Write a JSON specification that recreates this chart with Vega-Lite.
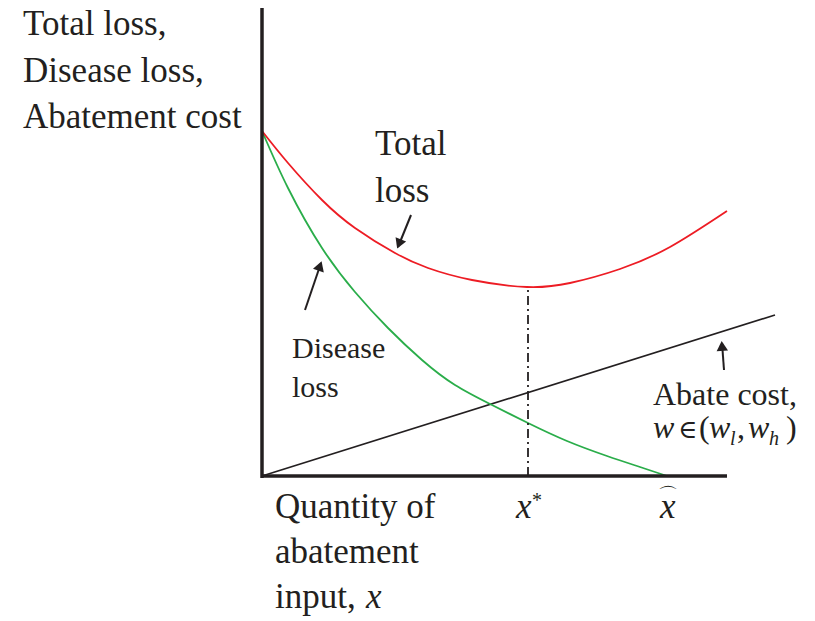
{
  "$schema": "https://vega.github.io/schema/vega-lite/v6.json",
  "width": 515,
  "height": 468,
  "padding": {"left": 262, "top": 8, "right": 38, "bottom": 145},
  "autosize": {"type": "none"},
  "background": "white",
  "config": {"view": {"stroke": null}, "text": {"font": "Liberation Serif", "color": "#231f20"}},
  "datasets": {
    "total": [
      {"x": 0, "y": 345}, {"x": 26, "y": 313}, {"x": 60, "y": 276}, {"x": 93, "y": 248},
      {"x": 133, "y": 223}, {"x": 166, "y": 208}, {"x": 210, "y": 196}, {"x": 265, "y": 189},
      {"x": 308, "y": 193}, {"x": 358, "y": 207}, {"x": 408, "y": 229}, {"x": 465, "y": 265}
    ],
    "disease": [
      {"x": 0, "y": 345}, {"x": 26, "y": 288}, {"x": 60, "y": 228}, {"x": 93, "y": 184},
      {"x": 126, "y": 148}, {"x": 160, "y": 116}, {"x": 193, "y": 91}, {"x": 230, "y": 71},
      {"x": 266, "y": 53}, {"x": 305, "y": 35}, {"x": 345, "y": 20}, {"x": 378, "y": 9}, {"x": 405, "y": 0}
    ],
    "abate": [{"x": 0, "y": 0}, {"x": 513, "y": 161}],
    "axes": [
      {"x": 0, "y": -2, "x2": 0, "y2": 468},
      {"x": 0, "y": 0, "x2": 465, "y2": 0}
    ],
    "xstar": [{"x": 266, "y": 0, "y2": 189}],
    "arrows": [
      {"name": "total", "x": 149, "y": 261, "x2": 136, "y2": 229},
      {"name": "disease", "x": 43, "y": 166, "x2": 59, "y2": 213},
      {"name": "abate", "x": 462, "y": 106, "x2": 460, "y2": 133}
    ],
    "heads": [
      {"name": "total", "x": 137, "y": 232},
      {"name": "disease", "x": 58, "y": 210},
      {"name": "abate", "x": 460, "y": 130}
    ],
    "labels": [
      {"t": "Total loss,", "x": -239, "y": 441, "g": "big"},
      {"t": "Disease loss,", "x": -239, "y": 394, "g": "big"},
      {"t": "Abatement cost", "x": -239, "y": 348, "g": "big"},
      {"t": "Total", "x": 113, "y": 321, "g": "big"},
      {"t": "loss", "x": 113, "y": 274, "g": "big"},
      {"t": "Quantity of", "x": 13, "y": -42, "g": "big"},
      {"t": "abatement", "x": 13, "y": -87, "g": "big"},
      {"t": "input,", "x": 13, "y": -132, "g": "big"},
      {"t": "Disease", "x": 30, "y": 118, "g": "mid"},
      {"t": "loss", "x": 30, "y": 79, "g": "mid"},
      {"t": "Abate cost,", "x": 391, "y": 71, "g": "abate"},
      {"t": "(", "x": 437, "y": 38, "g": "abate"},
      {"t": ",", "x": 475, "y": 38, "g": "abate"},
      {"t": ")", "x": 524, "y": 38, "g": "abate"}
    ],
    "symbols": [
      {"t": "∈", "x": 416, "y": 38}
    ],
    "italics": [
      {"t": "x", "x": 104, "y": -132, "g": "big"},
      {"t": "x", "x": 254, "y": -42, "g": "big"},
      {"t": "x", "x": 398, "y": -42, "g": "big"},
      {"t": "w", "x": 391, "y": 38, "g": "abate"},
      {"t": "w", "x": 447, "y": 38, "g": "abate"},
      {"t": "w", "x": 486, "y": 38, "g": "abate"},
      {"t": "l", "x": 468, "y": 31, "g": "sub"},
      {"t": "h", "x": 507, "y": 31, "g": "sub"}
    ],
    "marks": [
      {"t": "*", "x": 275, "y": -25},
      {"t": "⌒", "x": 406, "y": -20}
    ]
  },
  "encoding": {
    "x": {"type": "quantitative", "scale": {"domain": [0, 515], "nice": false, "zero": false}, "axis": null},
    "y": {"type": "quantitative", "scale": {"domain": [0, 468], "nice": false, "zero": false}, "axis": null}
  },
  "layer": [
    {
      "data": {"name": "abate"},
      "mark": {"type": "line", "color": "#231f20", "strokeWidth": 1.6, "clip": false},
      "encoding": {"x": {"field": "x", "type": "quantitative"}, "y": {"field": "y", "type": "quantitative"}}
    },
    {
      "data": {"name": "disease"},
      "mark": {"type": "line", "color": "#2aad4a", "strokeWidth": 1.8, "interpolate": "natural", "clip": false},
      "encoding": {"x": {"field": "x", "type": "quantitative"}, "y": {"field": "y", "type": "quantitative"}}
    },
    {
      "data": {"name": "total"},
      "mark": {"type": "line", "color": "#ed1c24", "strokeWidth": 1.8, "interpolate": "natural", "clip": false},
      "encoding": {"x": {"field": "x", "type": "quantitative"}, "y": {"field": "y", "type": "quantitative"}}
    },
    {
      "data": {"name": "xstar"},
      "mark": {"type": "rule", "color": "#231f20", "strokeWidth": 1.8, "strokeDash": [9, 4, 2, 4], "clip": false},
      "encoding": {"x": {"field": "x", "type": "quantitative"}, "y": {"field": "y", "type": "quantitative"}, "y2": {"field": "y2"}}
    },
    {
      "data": {"name": "axes"},
      "mark": {"type": "rule", "color": "#231f20", "strokeWidth": 3.5, "clip": false},
      "encoding": {
        "x": {"field": "x", "type": "quantitative"}, "y": {"field": "y", "type": "quantitative"},
        "x2": {"field": "x2"}, "y2": {"field": "y2"}
      }
    },
    {
      "data": {"name": "arrows"},
      "mark": {"type": "rule", "color": "#231f20", "strokeWidth": 2, "clip": false},
      "encoding": {
        "x": {"field": "x", "type": "quantitative"}, "y": {"field": "y", "type": "quantitative"},
        "x2": {"field": "x2"}, "y2": {"field": "y2"}
      }
    },
    {
      "data": {"name": "heads"},
      "transform": [{"filter": "datum.name === 'total'"}],
      "mark": {"type": "point", "shape": "triangle-up", "filled": true, "color": "#231f20", "size": 130, "angle": 202, "opacity": 1, "clip": false},
      "encoding": {"x": {"field": "x", "type": "quantitative"}, "y": {"field": "y", "type": "quantitative"}}
    },
    {
      "data": {"name": "heads"},
      "transform": [{"filter": "datum.name === 'disease'"}],
      "mark": {"type": "point", "shape": "triangle-up", "filled": true, "color": "#231f20", "size": 130, "angle": 19, "opacity": 1, "clip": false},
      "encoding": {"x": {"field": "x", "type": "quantitative"}, "y": {"field": "y", "type": "quantitative"}}
    },
    {
      "data": {"name": "heads"},
      "transform": [{"filter": "datum.name === 'abate'"}],
      "mark": {"type": "point", "shape": "triangle-up", "filled": true, "color": "#231f20", "size": 130, "angle": 356, "opacity": 1, "clip": false},
      "encoding": {"x": {"field": "x", "type": "quantitative"}, "y": {"field": "y", "type": "quantitative"}}
    },
    {
      "data": {"name": "labels"},
      "transform": [{"filter": "datum.g === 'big'"}],
      "mark": {"type": "text", "align": "left", "baseline": "alphabetic", "fontSize": 35},
      "encoding": {"x": {"field": "x", "type": "quantitative"}, "y": {"field": "y", "type": "quantitative"}, "text": {"field": "t"}}
    },
    {
      "data": {"name": "labels"},
      "transform": [{"filter": "datum.g === 'mid'"}],
      "mark": {"type": "text", "align": "left", "baseline": "alphabetic", "fontSize": 30},
      "encoding": {"x": {"field": "x", "type": "quantitative"}, "y": {"field": "y", "type": "quantitative"}, "text": {"field": "t"}}
    },
    {
      "data": {"name": "labels"},
      "transform": [{"filter": "datum.g === 'abate'"}],
      "mark": {"type": "text", "align": "left", "baseline": "alphabetic", "fontSize": 32},
      "encoding": {"x": {"field": "x", "type": "quantitative"}, "y": {"field": "y", "type": "quantitative"}, "text": {"field": "t"}}
    },
    {
      "data": {"name": "symbols"},
      "mark": {"type": "text", "align": "left", "baseline": "alphabetic", "fontSize": 26, "font": "DejaVu Serif"},
      "encoding": {"x": {"field": "x", "type": "quantitative"}, "y": {"field": "y", "type": "quantitative"}, "text": {"field": "t"}}
    },
    {
      "data": {"name": "italics"},
      "transform": [{"filter": "datum.g === 'big'"}],
      "mark": {"type": "text", "align": "left", "baseline": "alphabetic", "fontSize": 35, "fontStyle": "italic"},
      "encoding": {"x": {"field": "x", "type": "quantitative"}, "y": {"field": "y", "type": "quantitative"}, "text": {"field": "t"}}
    },
    {
      "data": {"name": "italics"},
      "transform": [{"filter": "datum.g === 'abate'"}],
      "mark": {"type": "text", "align": "left", "baseline": "alphabetic", "fontSize": 32, "fontStyle": "italic"},
      "encoding": {"x": {"field": "x", "type": "quantitative"}, "y": {"field": "y", "type": "quantitative"}, "text": {"field": "t"}}
    },
    {
      "data": {"name": "italics"},
      "transform": [{"filter": "datum.g === 'sub'"}],
      "mark": {"type": "text", "align": "left", "baseline": "alphabetic", "fontSize": 20, "fontStyle": "italic"},
      "encoding": {"x": {"field": "x", "type": "quantitative"}, "y": {"field": "y", "type": "quantitative"}, "text": {"field": "t"}}
    },
    {
      "data": {"name": "marks"},
      "mark": {"type": "text", "align": "center", "baseline": "middle", "fontSize": 20},
      "encoding": {"x": {"field": "x", "type": "quantitative"}, "y": {"field": "y", "type": "quantitative"}, "text": {"field": "t"}}
    }
  ]
}
